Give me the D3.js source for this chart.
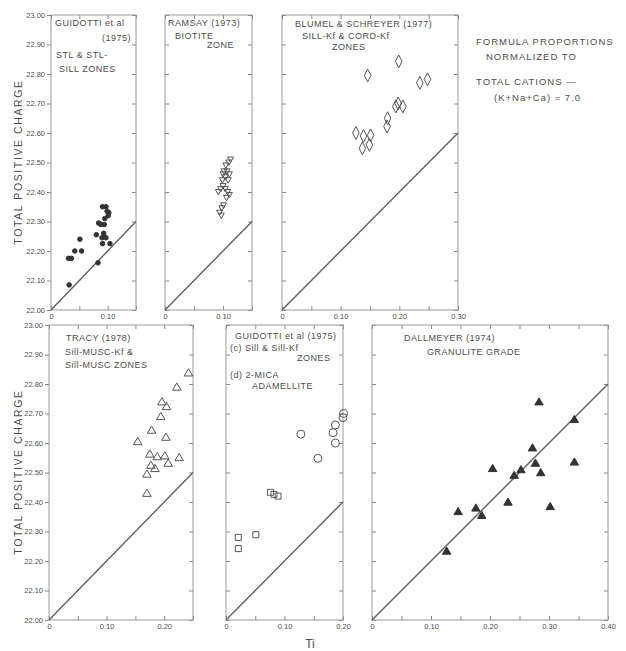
<!DOCTYPE html>
<html>
<head>
<meta charset="utf-8">
<script src="https://cdn.jsdelivr.net/npm/d3@7"></script>
<style>
body { margin: 0; background: #fff; }
svg text { font-family: "Liberation Sans", Arial, sans-serif; fill: #4d4d4d; }
.axis line { stroke: #888; }
.axis path { display: none; }
</style>
</head>
<body>
<svg id="fig" width="626" height="651"></svg>
<script>
// Ti vs total positive charge: [Ti, charge]
const guidottiStl = [
    [0.032, 22.085], [0.031, 22.175], [0.036, 22.175], [0.042, 22.20], [0.051, 22.24],
    [0.054, 22.20], [0.080, 22.255], [0.083, 22.16], [0.084, 22.295], [0.088, 22.29],
    [0.090, 22.245], [0.091, 22.225], [0.093, 22.26], [0.094, 22.29], [0.095, 22.31],
    [0.091, 22.35], [0.097, 22.35], [0.099, 22.335], [0.102, 22.33], [0.101, 22.32],
    [0.097, 22.245], [0.104, 22.225]
];
const ramsayBiotite = [
    [0.092, 22.40], [0.096, 22.41], [0.100, 22.42], [0.104, 22.41], [0.108, 22.40],
    [0.111, 22.39], [0.099, 22.44], [0.104, 22.45], [0.109, 22.44], [0.102, 22.47],
    [0.107, 22.47], [0.111, 22.46], [0.105, 22.49], [0.110, 22.50], [0.113, 22.51],
    [0.100, 22.46], [0.106, 22.38], [0.094, 22.33], [0.098, 22.345], [0.101, 22.355],
    [0.097, 22.32]
];
const blumelSchreyer = [
    [0.199, 22.843], [0.146, 22.795], [0.235, 22.77], [0.248, 22.782], [0.198, 22.70],
    [0.206, 22.69], [0.194, 22.69], [0.180, 22.65], [0.179, 22.622], [0.126, 22.60],
    [0.139, 22.59], [0.151, 22.592], [0.137, 22.548], [0.149, 22.56]
];
const tracy = [
    [0.242, 22.838], [0.222, 22.79], [0.196, 22.74], [0.204, 22.724], [0.194, 22.69],
    [0.178, 22.644], [0.203, 22.62], [0.154, 22.605], [0.175, 22.563], [0.188, 22.554],
    [0.201, 22.557], [0.226, 22.551], [0.207, 22.532], [0.177, 22.525], [0.184, 22.514],
    [0.170, 22.495], [0.170, 22.43]
];
const guidottiSill = [
    [0.076, 22.433], [0.082, 22.426], [0.089, 22.42], [0.021, 22.28], [0.021, 22.242],
    [0.051, 22.289]
];
const guidottiMica = [
    [0.201, 22.70], [0.200, 22.686], [0.128, 22.63], [0.187, 22.661], [0.183, 22.635],
    [0.187, 22.60], [0.157, 22.548]
];
const dallmeyer = [
    [0.283, 22.74], [0.343, 22.68], [0.272, 22.584], [0.277, 22.532], [0.343, 22.536],
    [0.286, 22.50], [0.2525, 22.51], [0.241, 22.491], [0.2045, 22.514], [0.2305, 22.40],
    [0.302, 22.385], [0.146, 22.368], [0.176, 22.38], [0.186, 22.355], [0.1265, 22.234]
];

const yTicks = [22.0, 22.1, 22.2, 22.3, 22.4, 22.5, 22.6, 22.7, 22.8, 22.9, 23.0];
const yTickLabels = ["22.00", "22.10", "22.20", "22.30", "22.40", "22.50", "22.60", "22.70", "22.80", "22.90", "23.00"];
const xTickLabels = ["0", "0.10", "0.20", "0.30", "0.40"];

const noteLines = ["FORMULA PROPORTIONS", "NORMALIZED TO", "TOTAL CATIONS —", "(K+Na+Ca) = 7.0"];

const rows = [{ top: 15, bottom: 310 }, { top: 325, bottom: 620 }];

const panels = [
    { row: 0, left: 51, right: 136, xMax: 0.15, yLabels: true,
      title: [["GUIDOTTI et al", 55, 26, "start"], ["(1975)", 131, 41, "end"], ["STL & STL-", 56, 58, "start"], ["SILL ZONES", 59, 72, "start"]],
      series: [{ data: guidottiStl, mark: "dot" }] },
    { row: 0, left: 165, right: 252, xMax: 0.15,
      title: [["RAMSAY (1973)", 168, 26, "start"], ["BIOTITE", 175, 39, "start"], ["ZONE", 207, 48, "start"]],
      series: [{ data: ramsayBiotite, mark: "vee" }] },
    { row: 0, left: 282, right: 458, xMax: 0.30,
      title: [["BLUMEL & SCHREYER (1977)", 295, 27, "start"], ["SILL-Kf & CORD-Kf", 302, 39, "start"], ["ZONES", 332, 50, "start"]],
      series: [{ data: blumelSchreyer, mark: "diamond" }] },
    { row: 1, left: 49, right: 193, xMax: 0.25, yLabels: true,
      title: [["TRACY (1978)", 66, 341, "start"], ["Sill-MUSC-Kf &", 65, 355, "start"], ["Sill-MUSC ZONES", 65, 368, "start"]],
      series: [{ data: tracy, mark: "tri" }] },
    { row: 1, left: 226, right: 343, xMax: 0.20,
      title: [["GUIDOTTI et al (1975)", 235, 339, "start"], ["(c) Sill & Sill-Kf", 230, 351, "start"], ["ZONES", 297, 361, "start"], ["(d) 2-MICA", 230, 378, "start"], ["ADAMELLITE", 252, 389, "start"]],
      series: [{ data: guidottiSill, mark: "square" }, { data: guidottiMica, mark: "ring" }] },
    { row: 1, left: 372, right: 608, xMax: 0.40,
      title: [["DALLMEYER (1974)", 404, 341, "start"], ["GRANULITE GRADE", 427, 355, "start"]],
      series: [{ data: dallmeyer, mark: "solid" }] }
];

const shapes = {
    dot: "M2.3,0A2.3,2.3 0 1,1 -2.3,0A2.3,2.3 0 1,1 2.3,0Z",
    ring: "M4,0A4,4 0 1,1 -4,0A4,4 0 1,1 4,0Z",
    square: "M-3,-3H3V3H-3Z",
    vee: "M-3,-2.5H3L0,3Z",
    diamond: "M0,-6.5L3.3,0L0,6.5L-3.3,0Z",
    tri: "M0,-4L4.3,3.2H-4.3Z",
    solid: "M0,-4L4.2,3.2H-4.2Z"
};
const filled = { dot: true, solid: true };

const svg = d3.select("#fig");

panels.forEach(p => {
    const row = rows[p.row];
    const x = d3.scaleLinear().domain([0, p.xMax]).range([p.left, p.right]);
    const y = d3.scaleLinear().domain([22, 23]).range([row.bottom, row.top]);
    const g = svg.append("g");
    const xTicks = d3.range(0, Math.round(p.xMax / 0.05) + 1).map(i => i * 0.05);
    const xFmt = d => {
        const k = Math.round(d * 20);
        return k % 2 === 0 ? xTickLabels[k / 2] : "";
    };

    g.append("g").attr("class", "axis")
        .attr("transform", `translate(0,${row.bottom})`)
        .call(d3.axisBottom(x).tickValues(xTicks).tickSize(-4).tickPadding(4).tickFormat(xFmt))
        .call(a => a.selectAll("text").attr("font-size", 7.5));
    g.append("g").attr("class", "axis")
        .attr("transform", `translate(0,${row.top})`)
        .call(d3.axisTop(x).tickValues(xTicks).tickSize(-4).tickFormat(""));
    g.append("g").attr("class", "axis")
        .attr("transform", `translate(${p.left},0)`)
        .call(d3.axisLeft(y).tickValues(yTicks).tickSize(p.yLabels ? 4 : -4).tickPadding(2)
            .tickFormat(p.yLabels ? (d, i) => yTickLabels[i] : ""))
        .call(a => a.selectAll("text").attr("font-size", 7.5));
    g.append("g").attr("class", "axis")
        .attr("transform", `translate(${p.right},0)`)
        .call(d3.axisRight(y).tickValues(yTicks).tickSize(-4).tickFormat(""));

    g.append("rect")
        .attr("x", p.left).attr("y", row.top)
        .attr("width", p.right - p.left).attr("height", row.bottom - row.top)
        .attr("fill", "none").attr("stroke", "#999").attr("stroke-width", 1);

    // reference line: charge = 22 + 2 Ti
    g.append("line")
        .attr("x1", x(0)).attr("y1", y(22))
        .attr("x2", x(p.xMax)).attr("y2", y(22 + 2 * p.xMax))
        .attr("stroke", "#606060").attr("stroke-width", 1.4);

    p.series.forEach(s => {
        g.selectAll(null).data(s.data).enter().append("path")
            .attr("d", shapes[s.mark])
            .attr("transform", d => `translate(${x(d[0])},${y(d[1])})`)
            .attr("fill", filled[s.mark] ? "#333" : "none")
            .attr("stroke", filled[s.mark] ? "#333" : "#555")
            .attr("stroke-width", 1);
    });

    g.selectAll(null).data(p.title).enter().append("text")
        .attr("x", d => d[1]).attr("y", d => d[2])
        .attr("text-anchor", d => d[3])
        .attr("font-size", 9).attr("letter-spacing", 0.5)
        .text(d => d[0]);
});

// axis titles
[162, 472].forEach(cy => {
    svg.append("text")
        .attr("transform", `translate(22,${cy}) rotate(-90)`)
        .attr("text-anchor", "middle")
        .attr("font-size", 10.5).attr("letter-spacing", 1.6)
        .text("TOTAL  POSITIVE  CHARGE");
});
svg.append("text")
    .attr("x", 310).attr("y", 648)
    .attr("text-anchor", "middle").attr("font-size", 12)
    .text("Ti");

// normalization note
svg.selectAll(".note").data(noteLines).enter().append("text")
    .attr("class", "note")
    .attr("x", (d, i) => [476, 486, 476, 494][i])
    .attr("y", (d, i) => [45, 60, 85, 101][i])
    .attr("font-size", 9.5).attr("letter-spacing", 1)
    .text(d => d);
</script>
</body>
</html>
